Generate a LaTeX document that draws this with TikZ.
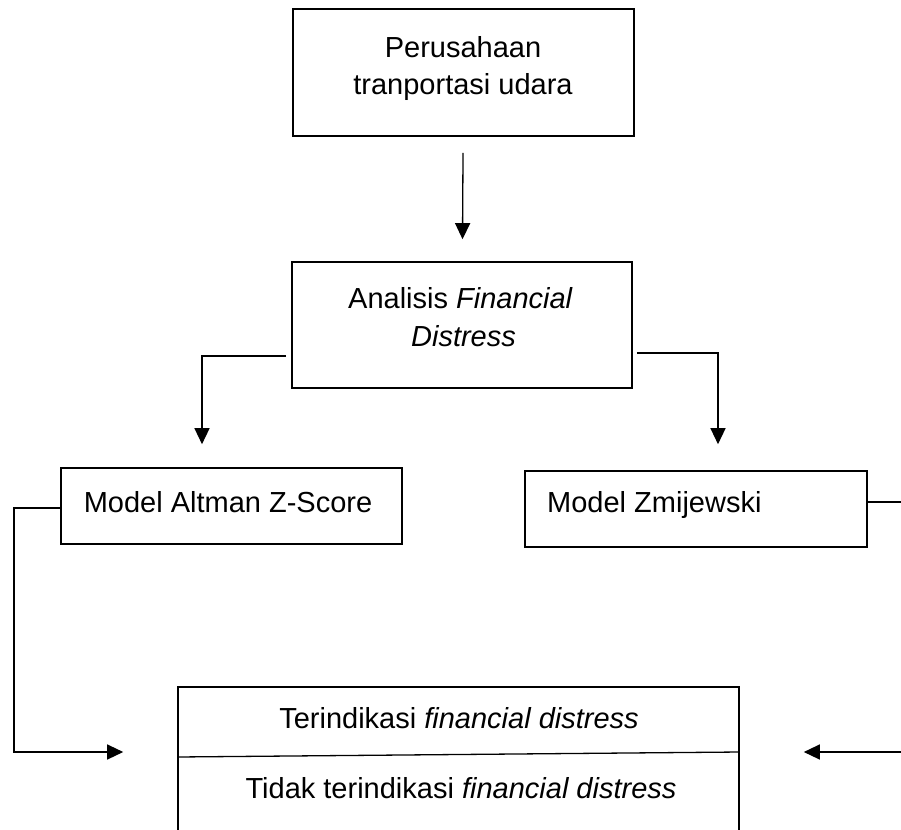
\documentclass[tikz,border=0pt]{standalone}
\usepackage{fontspec}
\setmainfont{Liberation Sans}
\usetikzlibrary{arrows.meta,calc}
\begin{document}
\begin{tikzpicture}[x=1pt, y=-1pt, >={Triangle[length=16pt,width=15pt]},
	kotak/.style={draw, line width=1.6pt, inner sep=0pt},
	garis/.style={line width=1.3pt},
	teks/.style={inner sep=0pt, font=\fontsize{29}{36.5}\selectfont, align=center}]
	\useasboundingbox (0,0) rectangle (901,829);
	\clip (0,0) rectangle (901,829);
	% Kotak-kotak
	\node[kotak, minimum width=341pt, minimum height=127pt] (perusahaan) at (463.5,72.5) {};
	\node[kotak, minimum width=340pt, minimum height=126pt] (analisis) at (462,325) {};
	\node[kotak, minimum width=341pt, minimum height=76pt] (altman) at (231.5,506) {};
	\node[kotak, minimum width=342pt, minimum height=76pt] (zmij) at (696,509) {};
	\node[kotak, minimum width=561pt, minimum height=183pt] (hasil) at (458.5,778.5) {};
	\draw[garis] (hasil.west |- 0,757) -- (hasil.east |- 0,752); % garis pembagi
	% Teks
	\node[teks, anchor=north] (tPerusahaan) at (463,36.5) {Perusahaan\\tranportasi udara};
	\node[teks, anchor=north, font=\fontsize{29}{38}\selectfont] (tAnalisis) at (463.5,287.5) {Analisis \textit{Financial}\hspace*{6pt}\\\textit{Distress}};
	\node[teks, anchor=base] (tAltman) at (228,512.5) {Model Altman Z-Score};
	\node[teks, anchor=base west] (tZmij) at (547,512.5) {Model Zmijewski};
	\node[teks, anchor=base] (tTerindikasi) at (459,728.5) {Terindikasi \textit{financial distress}};
	\node[teks, anchor=base] (tTidak) at (461,798.5) {Tidak terindikasi \textit{financial distress}};
	% Panah
	\draw[garis, ->, shorten <=16pt, shorten >=22pt] (perusahaan) -- (analisis);
	\coordinate (belokKiri) at (202,356);
	\draw[garis, ->] ($(analisis.west |- belokKiri)+(-5,0)$) -- (belokKiri) -- ($(belokKiri |- altman.north)+(0,-23)$);
	\coordinate (belokKanan) at (718,353);
	\draw[garis, ->] ($(analisis.east |- belokKanan)+(4,0)$) -- (belokKanan) -- ($(belokKanan |- zmij.north)+(0,-26)$);
	\coordinate (sudutKiri) at (14,752);
	\draw[garis, ->] ($(altman.west)+(0,2)$) -| (sudutKiri) -- ($(hasil.west |- sudutKiri)+(-54,0)$);
	\coordinate (sudutKanan) at (925,752);
	\draw[garis, ->] ($(zmij.east)+(0,-7)$) -| (sudutKanan) -- ($(hasil.east |- sudutKanan)+(64,0)$);
\end{tikzpicture}
\end{document}
